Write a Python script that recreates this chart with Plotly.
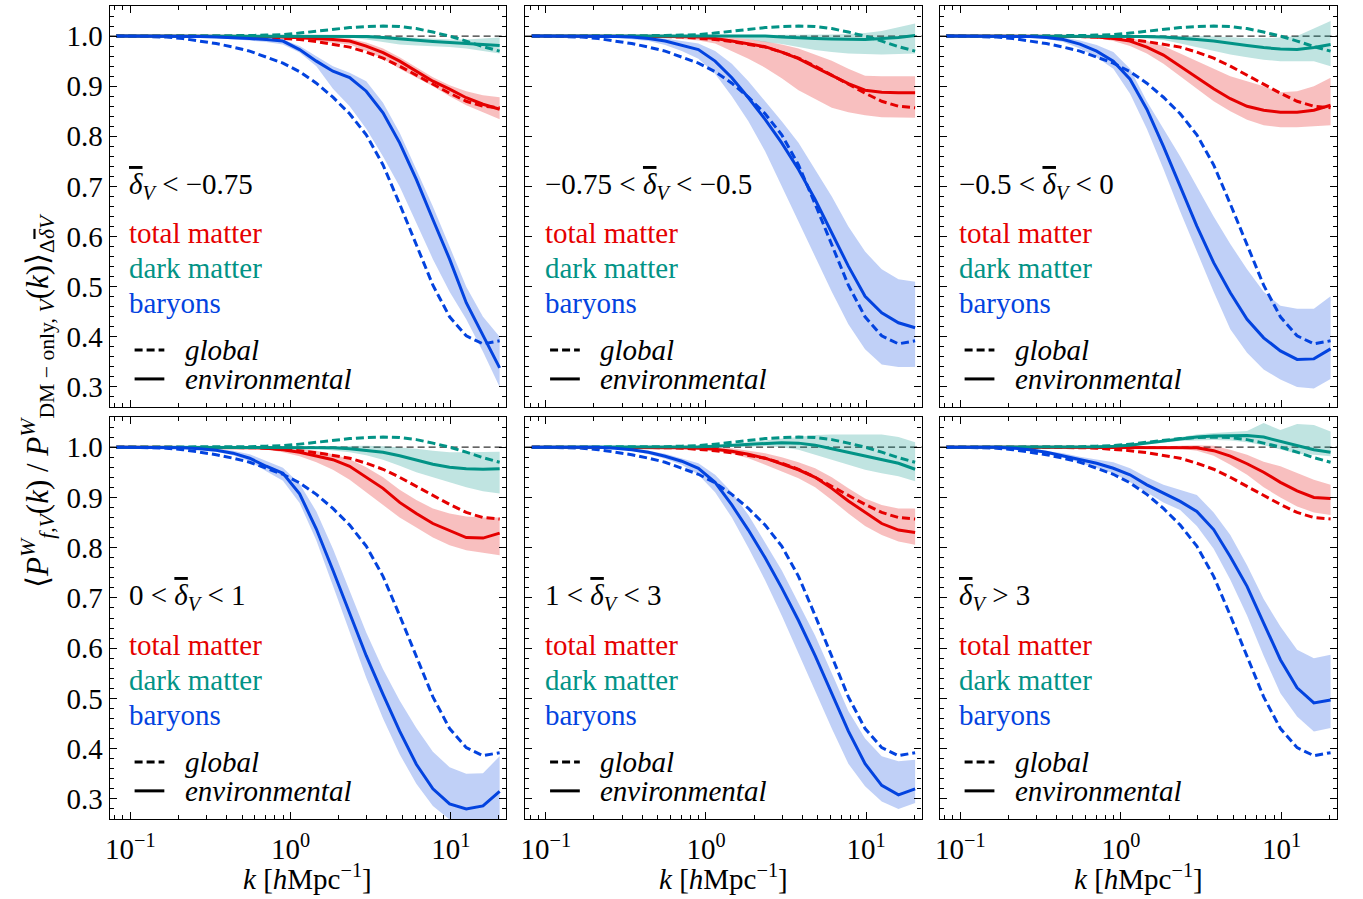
import plotly.graph_objects as go

# ---------------- data ----------------
k = [0.0818, 0.104, 0.132, 0.168, 0.213, 0.271, 0.344, 0.438, 0.556, 0.706, 0.897, 1.14,
     1.45, 1.84, 2.34, 2.97, 3.78, 4.80, 6.10, 7.74, 9.84, 12.5, 15.9, 20.2]

# global (same in every panel)
glob_tot = [1.0, 1.0, 1.0, 1.0, 1.0, 1.0, 1.0, 1.0, 0.999, 0.998, 0.996, 0.993, 0.989, 0.984,
            0.978, 0.968, 0.956, 0.94, 0.922, 0.904, 0.886, 0.87, 0.86, 0.857]
glob_dm = [1.0, 1.0, 1.0, 1.0, 1.0, 1.0, 1.0, 1.0, 1.001, 1.002, 1.003, 1.006, 1.01, 1.013,
           1.017, 1.019, 1.02, 1.019, 1.015, 1.008, 1.0, 0.99, 0.979, 0.97]
glob_bar = [1.0, 1.0, 0.999, 0.998, 0.995, 0.99, 0.985, 0.978, 0.97, 0.958, 0.946, 0.929, 0.906,
            0.878, 0.845, 0.803, 0.743, 0.665, 0.583, 0.503, 0.44, 0.402, 0.386, 0.392]

# panel 1: delta_V < -0.75
p1_tot = [1.0]*8 + [0.999, 0.999, 0.998, 0.997, 0.995, 0.993, 0.99, 0.98, 0.967, 0.95, 0.93, 0.91, 0.894, 0.877, 0.864, 0.854]
p1_tot_hi = [1.0]*10 + [0.999, 0.999, 0.998, 0.997, 0.995, 0.987, 0.975, 0.958, 0.938, 0.918, 0.902, 0.89, 0.882, 0.878]
p1_tot_lo = [1.0]*8 + [0.998, 0.997, 0.996, 0.994, 0.99, 0.987, 0.983, 0.97, 0.955, 0.935, 0.918, 0.9, 0.88, 0.862, 0.848, 0.834]
p1_dm = [1.0]*15 + [0.999, 0.997, 0.994, 0.991, 0.989, 0.987, 0.985, 0.983, 0.981]
p1_dm_hi = [1.0]*10 + [1.001, 1.001, 1.001, 1.001, 1.002, 1.002, 1.0, 0.998, 0.996, 0.994, 0.993, 0.993, 0.995, 0.997]
p1_dm_lo = [1.0]*10 + [0.999, 0.999, 0.998, 0.998, 0.997, 0.993, 0.988, 0.983, 0.981, 0.98, 0.978, 0.975, 0.97, 0.965]
p1_bar = [1.0, 1.0, 1.0, 1.0, 1.0, 0.999, 0.998, 0.997, 0.995, 0.993, 0.99, 0.973, 0.95, 0.93,
          0.917, 0.89, 0.847, 0.787, 0.714, 0.634, 0.555, 0.468, 0.402, 0.338]
p1_bar_hi = [1.0, 1.0, 1.0, 1.0, 1.0, 1.0, 0.999, 0.998, 0.997, 0.996, 0.993, 0.98, 0.96, 0.94,
             0.927, 0.91, 0.867, 0.807, 0.734, 0.66, 0.58, 0.50, 0.44, 0.40]
p1_bar_lo = [1.0, 1.0, 1.0, 1.0, 0.999, 0.998, 0.996, 0.994, 0.991, 0.988, 0.983, 0.967, 0.94, 0.895,
             0.86, 0.815, 0.76, 0.70, 0.628, 0.555, 0.49, 0.435, 0.37, 0.30]

# panel 2: -0.75 < delta_V < -0.5
p2_tot = [1.0]*8 + [0.999, 0.999, 0.998, 0.995, 0.99, 0.985, 0.979, 0.968, 0.955, 0.938, 0.922, 0.905, 0.892, 0.888, 0.887, 0.887]
p2_tot_hi = [1.0]*10 + [0.999, 0.999, 0.997, 0.994, 0.989, 0.983, 0.975, 0.963, 0.951, 0.935, 0.921, 0.92, 0.92, 0.92]
p2_tot_lo = [1.0]*7 + [0.999, 0.997, 0.994, 0.991, 0.985, 0.97, 0.955, 0.937, 0.916, 0.892, 0.874, 0.857, 0.848, 0.842, 0.838, 0.838, 0.837]
p2_dm = [1.0]*15 + [0.998, 0.996, 0.995, 0.994, 0.993, 0.993, 0.995, 0.997, 1.001]
p2_dm_hi = [1.0]*10 + [1.001, 1.001, 1.002, 1.002, 1.002, 1.003, 1.003, 1.003, 1.003, 1.004, 1.006, 1.01, 1.017, 1.025]
p2_dm_lo = [1.0]*10 + [0.999, 0.998, 0.997, 0.994, 0.988, 0.984, 0.978, 0.972, 0.968, 0.965, 0.964, 0.963, 0.964, 0.965]
p2_bar = [1.0, 1.0, 1.0, 1.0, 1.0, 0.999, 0.998, 0.995, 0.99, 0.982, 0.973, 0.95, 0.917, 0.877,
          0.834, 0.787, 0.734, 0.674, 0.608, 0.541, 0.481, 0.448, 0.428, 0.418]
p2_bar_hi = [1.0, 1.0, 1.0, 1.0, 1.0, 1.0, 0.999, 0.998, 0.995, 0.99, 0.985, 0.97, 0.945, 0.91,
             0.87, 0.83, 0.787, 0.734, 0.68, 0.62, 0.57, 0.535, 0.515, 0.51]
p2_bar_lo = [1.0, 1.0, 1.0, 1.0, 0.999, 0.997, 0.994, 0.99, 0.982, 0.97, 0.955, 0.925, 0.88, 0.83,
             0.77, 0.70, 0.63, 0.56, 0.49, 0.425, 0.375, 0.345, 0.34, 0.34]

# panel 3: -0.5 < delta_V < 0
p3_tot = [1.0]*8 + [0.999, 0.998, 0.995, 0.99, 0.978, 0.962, 0.94, 0.918, 0.895, 0.875, 0.86, 0.852, 0.848, 0.848, 0.852, 0.862]
p3_tot_hi = [1.0]*10 + [0.998, 0.995, 0.99, 0.98, 0.965, 0.95, 0.935, 0.92, 0.91, 0.90, 0.888, 0.89, 0.90, 0.917]
p3_tot_lo = [1.0]*8 + [0.998, 0.996, 0.99, 0.98, 0.965, 0.945, 0.92, 0.895, 0.87, 0.85, 0.833, 0.822, 0.818, 0.818, 0.82, 0.822]
p3_dm = [1.0]*12 + [0.999, 0.998, 0.996, 0.993, 0.99, 0.985, 0.981, 0.977, 0.974, 0.973, 0.977, 0.983]
p3_dm_hi = [1.0]*12 + [1.001, 1.001, 1.001, 1.0, 0.999, 0.997, 0.996, 0.996, 0.997, 1.0, 1.015, 1.03]
p3_dm_lo = [1.0]*10 + [0.999, 0.997, 0.995, 0.992, 0.985, 0.978, 0.97, 0.963, 0.958, 0.953, 0.95, 0.95, 0.95, 0.94]
p3_bar = [1.0, 1.0, 1.0, 1.0, 0.999, 0.999, 0.997, 0.993, 0.984, 0.97, 0.95, 0.914, 0.854, 0.78,
          0.70, 0.621, 0.548, 0.488, 0.435, 0.398, 0.372, 0.355, 0.356, 0.376]
p3_bar_hi = [1.0, 1.0, 1.0, 1.0, 1.0, 1.0, 0.999, 0.997, 0.991, 0.982, 0.968, 0.935, 0.87, 0.815,
             0.76, 0.70, 0.64, 0.585, 0.535, 0.49, 0.462, 0.456, 0.456, 0.481]
p3_bar_lo = [1.0, 1.0, 1.0, 1.0, 0.998, 0.997, 0.994, 0.988, 0.975, 0.958, 0.935, 0.885, 0.815, 0.735,
             0.65, 0.57, 0.49, 0.415, 0.368, 0.335, 0.315, 0.30, 0.297, 0.316]

# panel 4: 0 < delta_V < 1
p4_tot = [1.0]*8 + [0.999, 0.998, 0.995, 0.99, 0.983, 0.975, 0.962, 0.94, 0.918, 0.89, 0.868, 0.848, 0.834, 0.82, 0.819, 0.829]
p4_tot_hi = [1.0]*10 + [0.999, 0.997, 0.993, 0.986, 0.976, 0.96, 0.94, 0.915, 0.895, 0.878, 0.868, 0.862, 0.86, 0.86]
p4_tot_lo = [1.0]*8 + [0.998, 0.996, 0.99, 0.982, 0.97, 0.955, 0.935, 0.91, 0.885, 0.86, 0.84, 0.82, 0.805, 0.795, 0.79, 0.785]
p4_dm = [1.0]*13 + [0.999, 0.997, 0.994, 0.99, 0.983, 0.975, 0.966, 0.96, 0.957, 0.956, 0.957]
p4_dm_hi = [1.0]*12 + [1.001, 1.002, 1.003, 1.003, 1.002, 1.0, 0.997, 0.993, 0.99, 0.99, 0.99, 0.991]
p4_dm_lo = [1.0]*11 + [0.999, 0.997, 0.994, 0.99, 0.984, 0.975, 0.963, 0.95, 0.94, 0.93, 0.92, 0.912, 0.908]
p4_bar = [1.0, 1.0, 1.0, 1.0, 0.999, 0.997, 0.994, 0.988, 0.978, 0.962, 0.948, 0.907, 0.837, 0.755,
          0.669, 0.585, 0.508, 0.435, 0.369, 0.32, 0.29, 0.28, 0.286, 0.315]
p4_bar_hi = [1.0, 1.0, 1.0, 1.0, 1.0, 0.999, 0.997, 0.993, 0.986, 0.973, 0.959, 0.927, 0.872, 0.798,
             0.715, 0.631, 0.558, 0.496, 0.441, 0.394, 0.363, 0.35, 0.351, 0.385]
p4_bar_lo = [1.0, 1.0, 1.0, 1.0, 0.998, 0.995, 0.991, 0.984, 0.972, 0.952, 0.933, 0.889, 0.814, 0.724,
             0.632, 0.541, 0.46, 0.389, 0.33, 0.286, 0.259, 0.247, 0.248, 0.26]

# panel 5: 1 < delta_V < 3
p5_tot = [1.0]*9 + [0.999, 0.998, 0.996, 0.992, 0.986, 0.978, 0.967, 0.955, 0.94, 0.918, 0.893, 0.87, 0.848, 0.835, 0.83]
p5_tot_hi = [1.0]*12 + [0.998, 0.993, 0.988, 0.98, 0.97, 0.958, 0.94, 0.918, 0.898, 0.885, 0.878, 0.878]
p5_tot_lo = [1.0]*10 + [0.997, 0.993, 0.987, 0.978, 0.965, 0.952, 0.938, 0.92, 0.895, 0.868, 0.843, 0.825, 0.812, 0.806]
p5_dm = [1.0]*10 + [1.001, 1.002, 1.004, 1.006, 1.008, 1.009, 1.008, 1.004, 0.997, 0.99, 0.982, 0.975, 0.968, 0.956]
p5_dm_hi = [1.0]*10 + [1.002, 1.004, 1.006, 1.01, 1.014, 1.017, 1.02, 1.024, 1.025, 1.025, 1.025, 1.025, 1.02, 1.01]
p5_dm_lo = [1.0]*10 + [1.0, 1.0, 1.0, 1.001, 1.002, 1.0, 0.995, 0.985, 0.975, 0.965, 0.955, 0.948, 0.942, 0.932]
p5_bar = [1.0, 1.0, 1.0, 1.0, 1.0, 0.998, 0.995, 0.99, 0.982, 0.972, 0.958, 0.93, 0.885, 0.835,
          0.78, 0.72, 0.655, 0.585, 0.51, 0.435, 0.37, 0.327, 0.308, 0.32]
p5_bar_hi = [1.0, 1.0, 1.0, 1.0, 1.0, 0.999, 0.997, 0.993, 0.987, 0.978, 0.968, 0.945, 0.91, 0.865,
             0.81, 0.755, 0.69, 0.625, 0.55, 0.475, 0.42, 0.385, 0.375, 0.378]
p5_bar_lo = [1.0, 1.0, 1.0, 1.0, 0.999, 0.997, 0.993, 0.986, 0.977, 0.965, 0.945, 0.91, 0.86, 0.80,
             0.735, 0.665, 0.59, 0.515, 0.44, 0.37, 0.325, 0.295, 0.28, 0.292]

# panel 6: delta_V > 3
p6_tot = [1.0]*15 + [0.999, 0.993, 0.982, 0.967, 0.95, 0.93, 0.913, 0.9, 0.898]
p6_tot_hi = [1.0]*12 + [1.001, 1.002, 1.003, 1.004, 1.003, 0.995, 0.985, 0.971, 0.962, 0.948, 0.935, 0.925]
p6_tot_lo = [1.0]*12 + [0.999, 0.998, 0.997, 0.993, 0.983, 0.965, 0.945, 0.92, 0.9, 0.882, 0.87, 0.865]
p6_dm = [1.0]*9 + [1.001, 1.002, 1.004, 1.008, 1.012, 1.017, 1.02, 1.022, 1.023, 1.023, 1.02, 1.012, 1.003, 0.995, 0.99]
p6_dm_hi = [1.0]*9 + [1.002, 1.004, 1.007, 1.01, 1.015, 1.02, 1.025, 1.028, 1.03, 1.032, 1.048, 1.034, 1.046, 1.044, 1.031]
p6_dm_lo = [1.0]*9 + [1.0, 1.001, 1.002, 1.005, 1.008, 1.012, 1.013, 1.014, 1.013, 1.01, 1.004, 0.995, 0.987, 0.985, 0.982]
p6_bar = [1.0, 1.0, 1.0, 1.0, 0.998, 0.995, 0.99, 0.983, 0.975, 0.968, 0.958, 0.945, 0.925, 0.908,
          0.892, 0.872, 0.836, 0.782, 0.723, 0.65, 0.577, 0.521, 0.491, 0.497]
p6_bar_hi = [1.0, 1.0, 1.0, 1.0, 0.999, 0.997, 0.993, 0.988, 0.981, 0.975, 0.97, 0.958, 0.94, 0.925,
             0.915, 0.905, 0.87, 0.825, 0.765, 0.698, 0.643, 0.597, 0.58, 0.587]
p6_bar_lo = [1.0, 1.0, 1.0, 1.0, 0.997, 0.993, 0.987, 0.979, 0.969, 0.959, 0.948, 0.93, 0.91, 0.89,
             0.875, 0.843, 0.798, 0.736, 0.665, 0.585, 0.51, 0.464, 0.434, 0.441]

DB = '<span style="text-decoration:overline"><i>δ</i></span><sub><i>V</i></sub>'
panel_labels = [
    DB + " < −0.75",
    "−0.75 < " + DB + " < −0.5",
    "−0.5 < " + DB + " < 0",
    "0 < " + DB + " < 1",
    "1 < " + DB + " < 3",
    DB + " > 3",
]
species_names = ["total matter", "dark matter", "baryons"]
x_tickvals = [0.1, 1, 10]
x_ticktext = ["10<sup>−1</sup>", "10<sup>0</sup>", "10<sup>1</sup>"]
x_minor = [0.08, 0.09, 0.2, 0.3, 0.4, 0.5, 0.6, 0.7, 0.8, 0.9,
           2, 3, 4, 5, 6, 7, 8, 9, 20]
y_tickvals = [0.3, 0.4, 0.5, 0.6, 0.7, 0.8, 0.9, 1.0]

# ---------------- styling ----------------
RED, TEAL, BLUE = "#e50000", "#029386", "#0343df"
FILLS = {RED: "rgba(229,0,0,0.25)", TEAL: "rgba(2,147,134,0.25)", BLUE: "rgba(3,67,223,0.25)"}
FONT = "Liberation Serif"
FS = 29
W, H = 1363, 899
XPX = [(105, 503), (522, 920), (938, 1337)]
YPX = [(6, 407), (417, 819)]

panels = [
    (p1_tot, p1_tot_lo, p1_tot_hi, p1_dm, p1_dm_lo, p1_dm_hi, p1_bar, p1_bar_lo, p1_bar_hi),
    (p2_tot, p2_tot_lo, p2_tot_hi, p2_dm, p2_dm_lo, p2_dm_hi, p2_bar, p2_bar_lo, p2_bar_hi),
    (p3_tot, p3_tot_lo, p3_tot_hi, p3_dm, p3_dm_lo, p3_dm_hi, p3_bar, p3_bar_lo, p3_bar_hi),
    (p4_tot, p4_tot_lo, p4_tot_hi, p4_dm, p4_dm_lo, p4_dm_hi, p4_bar, p4_bar_lo, p4_bar_hi),
    (p5_tot, p5_tot_lo, p5_tot_hi, p5_dm, p5_dm_lo, p5_dm_hi, p5_bar, p5_bar_lo, p5_bar_hi),
    (p6_tot, p6_tot_lo, p6_tot_hi, p6_dm, p6_dm_lo, p6_dm_hi, p6_bar, p6_bar_lo, p6_bar_hi),
]
globs = [glob_tot, glob_dm, glob_bar]
colors = [RED, TEAL, BLUE]

fig = go.Figure()
layout = dict(width=W, height=H, margin=dict(l=0, r=0, t=0, b=0),
              paper_bgcolor="white", plot_bgcolor="white", showlegend=False,
              font=dict(family=FONT, size=FS, color="black"))
shapes, annotations = [], []

for idx, pdata in enumerate(panels):
    r, c = divmod(idx, 3)
    n = idx + 1
    xs = "" if n == 1 else str(n)
    xref, yref = "x" + xs, "y" + xs
    # bands
    for s in range(3):
        env, lo, hi = pdata[3*s], pdata[3*s+1], pdata[3*s+2]
        col = colors[s]
        fig.add_trace(go.Scatter(x=k, y=hi, mode="lines", line=dict(width=0, color=col),
                                 xaxis=xref, yaxis=yref, hoverinfo="skip"))
        fig.add_trace(go.Scatter(x=k, y=lo, mode="lines", line=dict(width=0, color=col),
                                 fill="tonexty", fillcolor=FILLS[col],
                                 xaxis=xref, yaxis=yref, hoverinfo="skip"))
    # global (dashed) and environmental (solid)
    for s in range(3):
        col = colors[s]
        fig.add_trace(go.Scatter(x=k, y=globs[s], mode="lines",
                                 line=dict(color=col, width=3, dash="8px,4px"),
                                 xaxis=xref, yaxis=yref, name=species_names[s] + " global"))
    for s in range(3):
        col = colors[s]
        fig.add_trace(go.Scatter(x=k, y=pdata[3*s], mode="lines",
                                 line=dict(color=col, width=3),
                                 xaxis=xref, yaxis=yref, name=species_names[s] + " environmental"))

    x0, x1 = XPX[c]
    yt, yb = YPX[r]
    common = dict(showline=True, linecolor="black", linewidth=1.3, mirror="ticks",
                  ticks="inside", ticklen=7, tickwidth=1.2, tickcolor="black",
                  showgrid=False, zeroline=False,
                  tickfont=dict(family=FONT, size=FS, color="black"))
    layout["xaxis" + xs] = dict(
        common, type="log", range=[-1.129, 1.346], domain=[x0 / W, x1 / W], anchor=yref,
        tickmode="array", tickvals=x_tickvals, ticktext=x_ticktext, showticklabels=(r == 1),
        ticklabelstandoff=4,
        minor=dict(tickmode="array", tickvals=x_minor, ticks="inside", ticklen=4,
                   tickwidth=1, tickcolor="black"))
    layout["yaxis" + xs] = dict(
        common, range=[0.26, 1.06], domain=[(H - yb) / H, (H - yt) / H], anchor=xref,
        tickmode="array", tickvals=y_tickvals, tickformat=".1f", showticklabels=(c == 0),
        minor=dict(dtick=0.02, tick0=0, ticks="inside", ticklen=4, tickwidth=1,
                   tickcolor="black"))

    xd, yd = xref + " domain", yref + " domain"
    shapes.append(dict(type="line", xref=xd, yref=yref, x0=0, x1=1, y0=1, y1=1,
                       line=dict(color="#333333", width=1.1, dash="7px,4px"), layer="below"))
    # legend keys
    shapes.append(dict(type="line", xref=xd, yref=yd, x0=0.063, x1=0.138, y0=0.142, y1=0.142,
                       line=dict(color="black", width=3, dash="8px,4px")))
    shapes.append(dict(type="line", xref=xd, yref=yd, x0=0.063, x1=0.138, y0=0.07, y1=0.07,
                       line=dict(color="black", width=3)))
    texts = [(panel_labels[idx], "black", 0.552),
             (species_names[0], RED, 0.434),
             (species_names[1], TEAL, 0.347),
             (species_names[2], BLUE, 0.259)]
    for t, col, yy in texts:
        annotations.append(dict(text=t, xref=xd, yref=yd, x=0.045, y=yy, xanchor="left",
                                yanchor="middle", showarrow=False,
                                font=dict(family=FONT, size=FS, color=col)))
    for t, yy in [("<i>global</i>", 0.142), ("<i>environmental</i>", 0.07)]:
        annotations.append(dict(text=t, xref=xd, yref=yd, x=0.185, y=yy, xanchor="left",
                                yanchor="middle", showarrow=False,
                                font=dict(family=FONT, size=FS, color="black")))
    if r == 1:
        annotations.append(dict(text="<i>k</i> [<i>h</i>Mpc<sup>−1</sup>]", xref="paper",
                                yref="paper", x=(x0 + x1) / 2 / W, y=(H - 877) / H,
                                xanchor="center", yanchor="middle", showarrow=False,
                                font=dict(family=FONT, size=FS, color="black")))

annotations.append(dict(
    text="⟨<i>P</i><sup><i>W</i></sup><sub><i>f,V</i></sub>(<i>k</i>) / "
         "<i>P</i><sup><i>W</i></sup><sub>DM − only, <i>V</i></sub>(<i>k</i>)⟩"
         "<sub>Δ<span style=\"text-decoration:overline\"><i>δ</i></span><i>V</i></sub>",
    xref="paper", yref="paper", x=33 / W, y=(H - 400) / H, textangle=-90,
    xanchor="center", yanchor="middle", showarrow=False,
    font=dict(family=FONT, size=31, color="black")))

layout["shapes"] = shapes
layout["annotations"] = annotations
fig.update_layout(**layout)
fig.write_html("out.html")
